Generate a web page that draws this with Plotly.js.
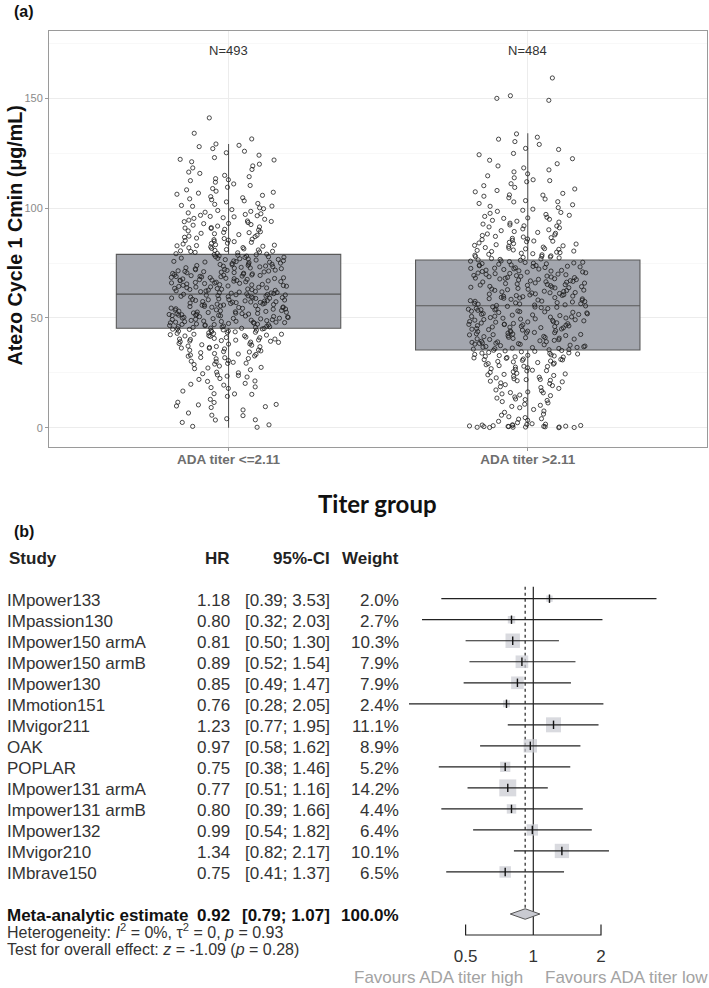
<!DOCTYPE html>
<html><head><meta charset="utf-8">
<script src="https://cdn.plot.ly/plotly-3.0.1.min.js"></script>
<style>html,body{margin:0;padding:0;background:#fff;}#chart{width:709px;height:988px;}</style>
</head><body><div id="chart"></div>
<script>
// ================= Panel (a) data =================
const groups = ['ADA titer <=2.11', 'ADA titer >2.11'];
const groupN = [493, 484];
const boxQ1 = [45.3, 35.4];
const boxMedian = [60.9, 55.6];
const boxQ3 = [79.0, 76.4];
const boxLowerFence = [0, 0];
const boxUpperFence = [129.3, 134.2];

// Atezo cycle 1 Cmin (ug/mL), ADA titer <= 2.11
const cminLow = [
0.2,0.6,1.3,2.4,3.5,3.6,4.1,5.5,5.7,6.7,8.1,9.2,9.6,9.9,
10.4,10.6,11.5,11.6,12.9,14.3,15.2,15.4,15.5,16.7,17.9,18.3,18.6,19.4,19.8,
20.2,21.1,21.3,22.0,22.4,23.5,23.8,24.1,24.6,25.0,25.3,26.4,26.9,27.2,27.5,28.1,28.8,29.0,29.3,29.4,29.8,23.1,
30.1,30.3,30.6,31.4,31.5,31.9,32.0,32.6,32.7,33.1,33.4,33.6,33.8,34.5,34.7,35.0,35.3,35.4,35.9,36.2,36.3,36.6,37.0,37.2,37.6,37.8,38.1,38.2,38.4,38.9,39.0,39.2,39.4,39.5,39.7,39.9,36.9,34.2,
40.0,40.2,40.4,40.4,40.7,41.0,41.1,41.3,41.6,41.8,41.9,42.2,42.4,42.6,42.6,42.9,43.0,43.2,43.4,43.5,43.8,44.0,44.1,44.3,44.4,44.6,44.8,44.9,45.0,45.1,45.2,45.3,43.7,42.0,
45.4,45.7,45.7,46.0,46.2,46.3,46.5,46.8,46.9,47.1,47.2,47.5,47.6,47.8,48.1,48.1,48.4,48.5,48.6,48.9,49.0,49.2,49.3,49.6,49.7,49.9,45.9,46.6,47.3,47.9,48.3,48.8,49.4,49.8,46.1,47.0,48.0,
50.0,50.2,50.3,50.5,50.6,50.9,51.0,51.1,51.2,51.4,51.5,51.7,51.8,51.9,52.0,52.2,52.3,52.5,52.7,52.8,53.0,53.1,53.3,53.6,53.7,53.9,54.0,54.2,54.4,54.5,54.7,54.9,50.7,51.3,51.6,52.1,52.6,53.4,54.1,54.8,
55.0,55.2,55.3,55.6,55.8,55.9,56.1,56.3,56.4,56.7,56.8,57.0,57.2,57.3,57.5,57.7,57.8,58.0,58.2,58.4,58.5,58.7,58.9,59.0,59.2,59.3,59.5,59.7,59.9,60.0,60.2,60.4,60.5,60.7,60.8,55.5,56.0,56.6,57.1,57.9,58.3,59.1,59.6,60.1,60.6,57.4,
61.0,61.1,61.3,61.5,61.6,61.8,62.0,62.1,62.3,62.6,62.7,62.9,63.1,63.2,63.4,63.7,63.8,64.0,64.2,64.4,64.5,64.8,64.9,65.1,65.2,65.5,65.7,65.8,61.4,62.4,63.0,63.5,64.1,64.6,65.3,65.9,
66.0,66.2,66.3,66.5,66.8,66.9,67.1,67.2,67.5,67.6,67.8,68.0,68.1,68.4,68.5,68.7,68.9,69.0,69.3,69.4,69.6,69.8,70.0,70.1,70.3,70.6,70.7,70.9,71.1,71.2,71.4,71.7,71.8,66.6,67.3,67.9,68.3,68.8,69.5,70.4,71.0,71.5,69.1,67.0,
72.0,72.2,72.4,72.5,72.7,72.9,73.1,73.3,73.4,73.6,73.9,74.0,74.2,74.5,74.6,74.8,75.0,75.2,75.4,75.5,75.8,76.0,76.1,76.4,76.6,76.7,77.0,77.2,77.3,77.6,77.7,78.0,78.2,78.3,78.6,78.8,78.9,72.8,73.7,74.4,75.7,76.9,77.9,
79.1,79.3,79.4,79.7,79.9,80.1,80.3,80.6,80.8,81.0,81.2,81.5,81.7,82.0,82.1,82.4,82.7,82.9,83.2,83.4,83.7,84.0,84.1,84.5,84.8,85.0,85.3,85.5,85.9,86.2,86.4,86.8,87.1,87.3,87.7,88.0,88.4,88.6,89.0,89.3,89.7,80.4,83.0,85.7,88.9,
90.1,90.4,90.8,91.2,91.5,91.9,92.3,92.6,93.0,93.1,93.5,93.9,94.2,94.6,95.0,95.4,95.7,96.1,96.3,96.8,97.2,97.5,97.9,98.2,98.6,99.0,99.4,99.8,91.0,94.0,96.6,
100.2,100.9,101.3,101.8,102.2,102.9,103.4,103.9,104.3,104.8,105.3,105.9,106.4,106.9,107.3,107.8,108.4,109.0,109.6,101.0,
110.4,111.1,111.9,112.6,113.5,114.4,115.0,115.9,116.5,117.7,118.4,119.3,113.0,
120.1,121.2,122.3,123.1,124.2,125.3,126.0,127.2,128.1,129.3,122.0,
128.7,131.6,134.2,141.2
];

// Atezo cycle 1 Cmin (ug/mL), ADA titer > 2.11
const cminHigh = [
0.0,0.1,0.1,0.2,0.3,0.3,0.4,0.5,0.5,0.6,0.7,0.8,0.9,1.0,1.1,1.2,1.3,1.5,1.6,1.8,0.2,0.6,
2.3,2.9,3.4,3.9,4.6,5.0,5.7,6.2,7.0,7.6,8.3,9.1,9.7,4.1,
10.2,10.7,11.3,11.9,12.4,12.8,13.5,14.0,14.6,14.9,15.4,15.9,16.3,16.8,17.2,17.9,18.3,18.7,19.2,19.6,13.1,16.0,
20.1,20.4,20.9,21.2,21.6,21.9,22.3,22.7,23.0,23.4,23.8,24.1,24.5,24.8,25.2,25.5,25.9,26.2,26.6,26.9,27.3,27.6,28.0,28.3,28.7,29.0,29.4,29.7,22.0,24.3,26.0,27.9,29.2,21.4,
30.0,30.2,30.4,30.7,30.9,31.1,31.3,31.6,31.8,32.0,32.3,32.5,32.7,32.9,33.2,33.4,33.6,33.9,34.1,34.3,34.6,34.8,35.0,35.2,35.3,31.0,32.2,33.0,34.0,
35.5,35.6,35.8,36.0,36.1,36.3,36.5,36.7,36.9,37.0,37.2,37.4,37.6,37.8,38.0,38.1,38.3,38.5,38.7,38.9,39.1,39.2,39.4,39.6,39.8,36.6,38.4,
40.1,40.2,40.5,40.7,40.8,41.1,41.2,41.5,41.6,41.9,42.0,42.3,42.4,42.7,42.8,43.1,43.3,43.4,43.7,43.8,44.1,44.2,44.5,44.7,44.9,41.0,42.5,43.2,44.0,40.4,
45.0,45.2,45.5,45.6,45.9,46.1,46.2,46.5,46.7,46.9,47.1,47.2,47.5,47.7,47.8,48.1,48.3,48.4,48.7,48.9,49.0,49.3,49.5,49.6,49.9,45.8,46.4,47.4,48.2,49.2,47.0,
50.0,50.2,50.4,50.7,50.8,51.1,51.3,51.4,51.7,51.9,52.0,52.3,52.5,52.6,52.9,53.1,53.2,53.5,53.7,53.8,54.1,54.3,54.4,54.7,54.9,55.0,55.3,55.5,50.5,51.6,52.8,54.0,55.1,
55.7,55.9,56.0,56.3,56.4,56.7,56.9,57.0,57.3,57.5,57.6,57.9,58.1,58.2,58.5,58.7,58.8,59.1,59.3,59.4,59.7,59.9,60.0,60.3,60.5,60.6,60.9,56.5,57.7,59.0,60.2,
61.0,61.2,61.5,61.6,61.9,62.1,62.2,62.5,62.7,62.9,63.1,63.2,63.5,63.7,63.8,64.1,64.3,64.4,64.7,64.9,65.0,65.3,65.5,65.7,65.9,61.4,62.6,64.0,65.2,
66.0,66.3,66.4,66.7,66.9,67.0,67.3,67.5,67.6,67.9,68.1,68.2,68.5,68.7,68.8,69.1,69.3,69.4,69.7,69.9,70.0,70.3,70.5,70.6,70.9,66.5,67.8,69.0,70.2,68.4,
71.0,71.2,71.5,71.7,71.8,72.1,72.3,72.4,72.7,72.9,73.0,73.3,73.5,73.6,73.9,74.1,74.2,74.5,74.7,74.8,75.1,75.3,75.4,75.7,75.9,76.0,76.3,71.4,72.6,73.8,75.0,
76.5,76.7,76.9,77.1,77.4,77.6,77.8,78.1,78.3,78.6,78.8,79.0,79.3,79.5,79.8,80.0,80.3,80.5,80.8,81.0,81.3,81.5,81.8,82.1,82.3,82.6,82.9,83.1,83.4,83.7,83.9,84.2,84.5,84.8,85.1,85.4,85.7,86.0,86.3,86.6,86.9,87.2,87.6,87.9,88.3,88.6,89.0,89.4,89.8,78.0,81.6,85.0,
90.2,90.6,91.1,91.5,91.9,92.4,92.8,93.2,93.7,94.1,94.5,95.0,95.4,95.9,96.3,96.8,97.2,97.7,98.1,98.6,99.1,99.6,92.0,95.6,
100.3,100.9,101.6,102.2,102.9,103.5,104.2,104.8,105.5,106.1,106.8,107.5,108.1,108.8,109.5,103.0,106.0,
110.3,111.2,112.1,113.0,113.9,114.8,115.7,116.6,117.5,118.4,119.3,112.6,
120.3,121.9,122.6,124.4,125.0,126.8,127.3,129.1,130.4,131.5,132.4,133.9,
149.2,150.1,151.3,159.4
];

// ================= Panel (b) data =================
const studies = ['IMpower133','IMpassion130','IMpower150 armA','IMpower150 armB','IMpower130','IMmotion151','IMvigor211','OAK','POPLAR','IMpower131 armA','Impower131 armB','IMpower132','IMvigor210','IMbrave150'];
const hr     = [1.18,0.80,0.81,0.89,0.85,0.76,1.23,0.97,0.75,0.77,0.80,0.99,1.34,0.75];
const ciLow  = [0.39,0.32,0.50,0.52,0.49,0.28,0.77,0.58,0.38,0.51,0.39,0.54,0.82,0.41];
const ciHigh = [3.53,2.03,1.30,1.54,1.47,2.05,1.95,1.62,1.46,1.16,1.66,1.82,2.17,1.37];
const weightPct = [2.0,2.7,10.3,7.9,7.9,2.4,11.1,8.9,5.2,14.2,4.4,6.4,10.1,6.5];
const metaLabel = 'Meta-analytic estimate';
const metaHR = 0.92, metaLow = 0.79, metaHigh = 1.07, metaWeight = 100.0;
const heterogeneityText = 'Heterogeneity: <i>I</i><sup>2</sup> = 0%, τ<sup>2</sup> = 0, <i>p</i> = 0.93';
const overallText = 'Test for overall effect: <i>z</i> = -1.09 (<i>p</i> = 0.28)';
const forestTicks = [0.5, 1, 2];
const forestTickLabels = ['0.5', '1', '2'];
const favourLabels = ['Favours ADA titer high', 'Favours ADA titer low'];

// ================= geometry helpers =================
const W = 709, H = 988;
const fx = p => p / W, fy = p => 1 - p / H;
const FONT = 'Liberation Sans, Arial, sans-serif';

const row1Px = 598.7, rowPx = 21.02;              // forest row spacing
const rowAt = p => 1 + (p - row1Px) / rowPx;
const decadePx = 224.9, nullPx = 533.3, forestLeftPx = 400;
const x2range = [-(nullPx - forestLeftPx) / decadePx, (W - nullPx) / decadePx];

const studyRows = studies.map((_, i) => i + 1);
const metaRow = studies.length + 2;
const topRow = 1 - 0.57;
const axisRow = metaRow + 1;
const tickTopRow = axisRow - 0.5;
const tickLabelRow = rowAt(958);

const traces = [];

// --- box statistics (a)
traces.push({
  type: 'box', x: groups, q1: boxQ1, median: boxMedian, q3: boxQ3,
  lowerfence: boxLowerFence, upperfence: boxUpperFence,
  width: 0.75, boxpoints: false, whiskerwidth: 0,
  fillcolor: '#a3a6ae', line: { color: '#595959', width: 1.1 },
  hoverinfo: 'skip', xaxis: 'x', yaxis: 'y'
});
// --- jittered individual points (a); split into value bands so the library's
//     density-scaled jitter spreads every band across the same width
const jitterBands = [-Infinity, 20, 40, 80, 100, 120, Infinity];
[cminLow, cminHigh].forEach((vals, gi) => {
  for (let b = 0; b < jitterBands.length - 1; b++) {
    const sub = vals.filter(v => v >= jitterBands[b] && v < jitterBands[b + 1]);
    if (!sub.length) continue;
    traces.push({
      type: 'box', x: sub.map(() => groups[gi]), y: sub,
      width: 0.4, boxpoints: 'all', jitter: 1, pointpos: 0, whiskerwidth: 0,
      fillcolor: 'rgba(0,0,0,0)', line: { width: 0, color: 'rgba(0,0,0,0)' },
      marker: { symbol: 'circle-open', size: 4.2, color: '#1e1e1e', line: { width: 0.8, color: '#1e1e1e' } },
      hoverinfo: 'skip', xaxis: 'x', yaxis: 'y'
    });
  }
});

// --- forest (b)
traces.push({ // reference line at 1
  type: 'scatter', mode: 'lines', x: [forestTicks[1], forestTicks[1]], y: [topRow, axisRow],
  line: { color: '#222', width: 1.2 }, hoverinfo: 'skip', xaxis: 'x2', yaxis: 'y2'
});
traces.push({ // dotted line at meta estimate
  type: 'scatter', mode: 'lines', x: [metaHR, metaHR], y: [topRow, metaRow - 0.25],
  line: { color: '#222', width: 1.2, dash: 'dot' }, hoverinfo: 'skip', xaxis: 'x2', yaxis: 'y2'
});
traces.push({ // weight squares
  type: 'scatter', mode: 'markers', x: hr, y: studyRows,
  marker: { symbol: 'square', size: weightPct.map(w => 4.5 * Math.sqrt(w)), color: '#c9cad1', line: { width: 0 } },
  hoverinfo: 'skip', xaxis: 'x2', yaxis: 'y2'
});
traces.push({ // CI lines
  type: 'scatter', mode: 'markers', x: hr, y: studyRows,
  marker: { size: 1, opacity: 0 },
  error_x: { type: 'data', symmetric: false,
    array: hr.map((v, i) => ciHigh[i] - v), arrayminus: hr.map((v, i) => v - ciLow[i]),
    width: 0, thickness: 1.2, color: '#222' },
  hoverinfo: 'skip', xaxis: 'x2', yaxis: 'y2'
});
traces.push({ // centre ticks
  type: 'scatter', mode: 'markers', x: hr, y: studyRows,
  marker: { symbol: 'line-ns-open', size: 6, color: '#111', line: { width: 1.4, color: '#111' } },
  hoverinfo: 'skip', xaxis: 'x2', yaxis: 'y2'
});
traces.push({ // diamond
  type: 'scatter', mode: 'lines', fill: 'toself', fillcolor: '#c9cad1',
  x: [metaLow, metaHR, metaHigh, metaHR, metaLow],
  y: [metaRow, metaRow - 0.25, metaRow, metaRow + 0.25, metaRow],
  line: { color: '#555', width: 1 }, hoverinfo: 'skip', xaxis: 'x2', yaxis: 'y2'
});
traces.push({ // axis bracket
  type: 'scatter', mode: 'lines',
  x: [forestTicks[0], forestTicks[0], forestTicks[2], forestTicks[2]],
  y: [tickTopRow, axisRow, axisRow, tickTopRow],
  line: { color: '#222', width: 1.2 }, hoverinfo: 'skip', xaxis: 'x2', yaxis: 'y2'
});
traces.push({ // axis tick labels
  type: 'scatter', mode: 'text', x: forestTicks, y: forestTicks.map(() => tickLabelRow),
  text: forestTickLabels, textposition: 'middle center',
  textfont: { family: FONT, size: 17, color: '#333' }, hoverinfo: 'skip', xaxis: 'x2', yaxis: 'y2'
});

// ================= annotations =================
const ann = [];
const txt = (text, xpx, ypx, anchor, size, color, bold, extra) => Object.assign({
  text: bold ? '<b>' + text + '</b>' : text, xref: 'paper', yref: 'paper',
  x: fx(xpx), y: fy(ypx), xanchor: anchor, yanchor: 'middle', showarrow: false,
  font: { family: FONT, size: size, color: color }
}, extra || {});

ann.push(txt('(a)', 11.5, 11.5, 'left', 16, '#111', true));
ann.push(txt('(b)', 11.5, 531.5, 'left', 16, '#111', true));
ann.push(txt('Atezo Cycle 1 Cmin (μg/mL)', 15, 235.5, 'center', 19.7, '#111', true, { textangle: -90 }));
ann.push(txt('Titer group', 378, 503.5, 'center', 24, '#111', true, { font: { family: 'Lato, Liberation Sans, sans-serif', size: 24, color: '#111' } }));
groups.forEach((g, i) => ann.push({
  text: 'N=' + groupN[i], xref: 'x', yref: 'y', x: g, y: 171.8, showarrow: false,
  xanchor: 'center', yanchor: 'middle', font: { family: FONT, size: 13, color: '#333' }
}));

// forest text columns
const colStudy = 5, colHR = 231.5, colCI = 332, colW = 400.5;
const headerPx = 558.3, text1Px = 600.5;
ann.push(txt('Study', 7, headerPx, 'left', 17, '#222', true));
ann.push(txt('HR', colHR, headerPx, 'right', 17, '#222', true));
ann.push(txt('95%-CI', colCI, headerPx, 'right', 17, '#222', true));
ann.push(txt('Weight', colW, headerPx, 'right', 17, '#222', true));
studies.forEach((s, i) => {
  const y = text1Px + i * rowPx;
  ann.push(txt(s, colStudy, y, 'left', 17, '#333', false));
  ann.push(txt(hr[i].toFixed(2), colHR, y, 'right', 17, '#333', false));
  ann.push(txt('[' + ciLow[i].toFixed(2) + '; ' + ciHigh[i].toFixed(2) + ']', colCI, y, 'right', 17, '#333', false));
  ann.push(txt(weightPct[i].toFixed(1) + '%', colW, y, 'right', 17, '#333', false));
});
const metaPx = 915.3;
ann.push(txt(metaLabel, colStudy, metaPx, 'left', 17, '#111', true));
ann.push(txt(metaHR.toFixed(2), colHR, metaPx, 'right', 17, '#111', true));
ann.push(txt('[' + metaLow.toFixed(2) + '; ' + metaHigh.toFixed(2) + ']', colCI, metaPx, 'right', 17, '#111', true));
ann.push(txt(metaWeight.toFixed(1) + '%', colW, metaPx, 'right', 17, '#111', true));
ann.push(txt(heterogeneityText, colStudy, 931, 'left', 16, '#333', false));
ann.push(txt(overallText, colStudy, 949.5, 'left', 16, '#333', false));
ann.push(txt(favourLabels[0], 525, 977, 'right', 17, '#a3a3a3', false));
ann.push(txt(favourLabels[1], 543, 977, 'left', 17, '#a3a3a3', false));

const layout = {
  width: W, height: H, margin: { l: 0, r: 0, t: 0, b: 0, pad: 0 },
  paper_bgcolor: '#fff', plot_bgcolor: 'rgba(0,0,0,0)', showlegend: false,
  boxmode: 'overlay', font: { family: FONT },
  xaxis: {
    domain: [fx(49), fx(707.3)], anchor: 'y', type: 'category', range: [-0.6, 1.6],
    showgrid: true, gridcolor: '#ececec', gridwidth: 1, zeroline: false,
    showline: true, mirror: true, linecolor: '#9a9a9a', linewidth: 1,
    ticks: 'outside', ticklen: 3, tickcolor: '#9a9a9a', ticklabelstandoff: -3,
    tickfont: { family: FONT, size: 13.5, color: '#6e6e6e', weight: 'bold' }
  },
  yaxis: {
    domain: [fy(446.7), fy(31)], anchor: 'x', range: [-8.66, 180.8],
    tick0: 0, dtick: 50, showgrid: true, gridcolor: '#ececec', gridwidth: 1, zeroline: false,
    minor: { tick0: 0, dtick: 25, showgrid: true, gridcolor: '#f5f5f5', gridwidth: 0.7, ticks: '' },
    showline: true, mirror: true, linecolor: '#9a9a9a', linewidth: 1,
    ticks: 'outside', ticklen: 3, tickcolor: '#9a9a9a',
    tickfont: { family: FONT, size: 11, color: '#8a8a8a' }
  },
  xaxis2: { domain: [fx(forestLeftPx), 1], anchor: 'y2', type: 'log', range: x2range, visible: false },
  yaxis2: { domain: [0, fy(540)], anchor: 'x2', range: [rowAt(H), rowAt(540)], visible: false },
  annotations: ann
};

Plotly.newPlot('chart', traces, layout, { staticPlot: true, displayModeBar: false });
</script>
</body></html>
